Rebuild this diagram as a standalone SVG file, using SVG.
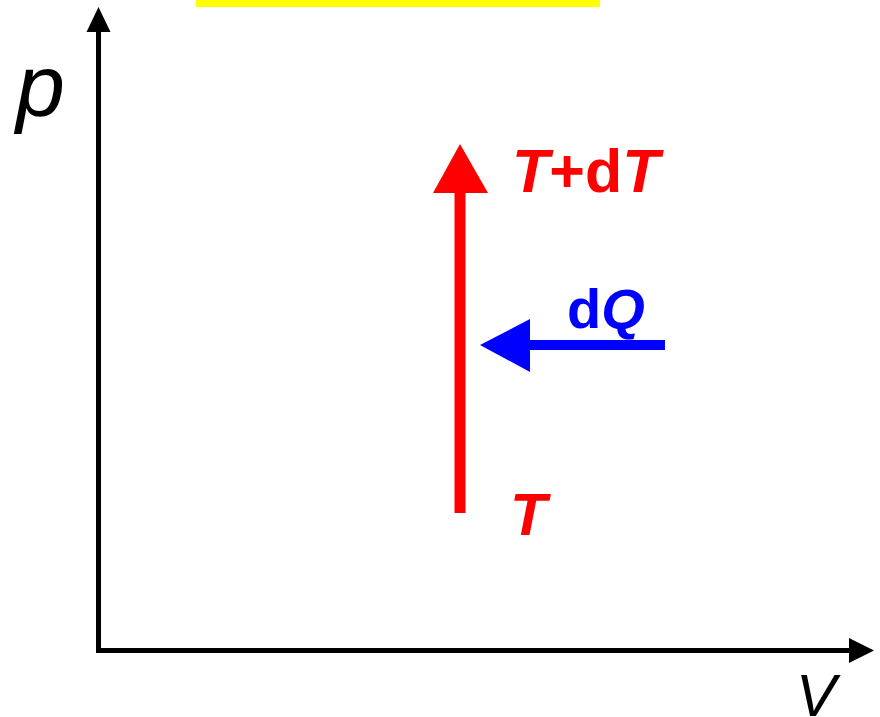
<svg xmlns="http://www.w3.org/2000/svg" width="880" height="717" viewBox="0 0 880 717">
<style>
.lbl{font-family:"Liberation Sans",Arial,sans-serif}
.ax{stroke:#000;stroke-width:5;fill:none}
</style>
<rect width="880" height="717" fill="#fff"/>
<rect id="highlight" x="196" y="0" width="404" height="7" fill="#ffff00"/>
<g id="connectors">
  <g id="p-axis">
    <line class="ax" x1="98.5" y1="653" x2="98.5" y2="28"/>
    <polygon points="98.5,7 86.5,32 110.5,32" fill="#000"/>
  </g>
  <g id="v-axis">
    <line class="ax" x1="96" y1="650.5" x2="852" y2="650.5"/>
    <polygon points="874,650.5 849,638 849,663" fill="#000"/>
  </g>
  <g id="heating">
    <line x1="460" y1="513" x2="460" y2="190" stroke="#ff0000" stroke-width="11"/>
    <polygon points="460,144 433,193 488,193" fill="#ff0000"/>
  </g>
  <g id="heat-in">
    <line x1="665" y1="345" x2="526" y2="345" stroke="#0000ff" stroke-width="10"/>
    <polygon points="480,345 530,319 530,372" fill="#0000ff"/>
  </g>
</g>
<g id="label-p"><text class="lbl" x="16" y="116" font-size="88" font-style="italic">p</text></g>
<g id="label-V"><text class="lbl" x="796" y="716" font-size="60" font-style="italic">V</text></g>
<g id="label-TdT"><text class="lbl" x="512" y="192" font-size="61" font-weight="bold" fill="#ff0000"><tspan font-style="italic">T</tspan>+d<tspan font-style="italic">T</tspan></text></g>
<g id="label-dQ"><text class="lbl" x="567" y="328" font-size="56" font-weight="bold" fill="#0000ff">d<tspan font-style="italic">Q</tspan></text></g>
<g id="label-T"><text class="lbl" x="510" y="535" font-size="60" font-weight="bold" font-style="italic" fill="#ff0000">T</text></g>
</svg>
